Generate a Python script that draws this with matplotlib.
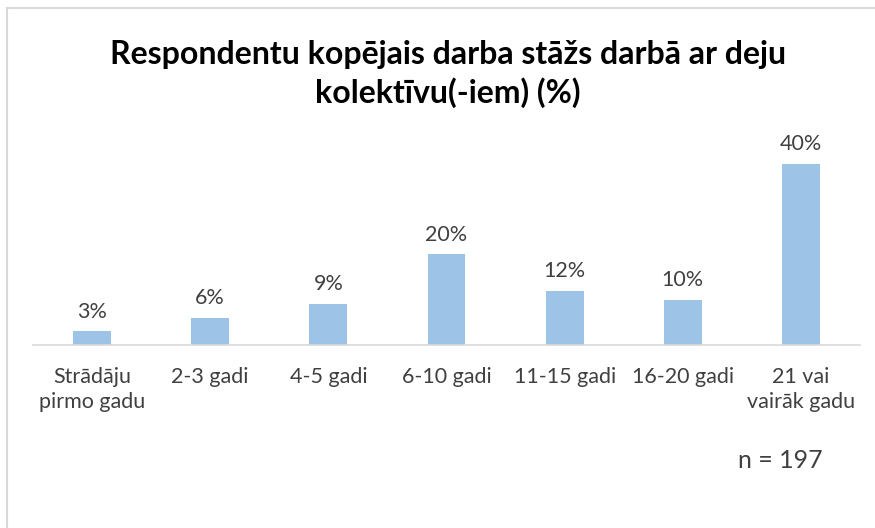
import matplotlib.pyplot as plt
from matplotlib.patches import Rectangle

categories = ["Strādāju\npirmo gadu", "2-3 gadi", "4-5 gadi", "6-10 gadi",
              "11-15 gadi", "16-20 gadi", "21 vai\nvairāk gadu"]
values = [3, 6, 9, 20, 12, 10, 40]

plt.rcParams['font.family'] = ['Lato', 'DejaVu Sans']

fig = plt.figure(figsize=(8.75, 5.28), dpi=100)
W, H = 875, 528

# chart area border (cut off on right and bottom like the source)
fig.patches.append(Rectangle((7 / W, -0.05), 1.1, 1 - 8 / H + 0.05,
                             transform=fig.transFigure, fill=False,
                             edgecolor='#d9d9d9', linewidth=1.5))

ax = fig.add_axes([33 / W, (H - 345) / H, (860 - 33) / W, (345 - 141) / H])
x = range(len(categories))
bars = ax.bar(x, values, width=0.32, color='#9dc3e6')
ax.set_xlim(-0.5, len(categories) - 0.5)
ax.set_ylim(0, 45)

for b, v in zip(bars, values):
    ax.annotate(f"{v}%", (b.get_x() + b.get_width() / 2, v),
                xytext=(0, 7), textcoords='offset points',
                ha='center', va='bottom', fontsize=15.5, color='#404040')

for s in ['top', 'right', 'left']:
    ax.spines[s].set_visible(False)
ax.spines['bottom'].set_color('#d9d9d9')
ax.spines['bottom'].set_linewidth(1.2)
ax.set_yticks([])
ax.set_xticks(list(x))
ax.set_xticklabels(categories, fontsize=15.5, color='#404040', linespacing=1.3)
ax.tick_params(axis='x', length=0, pad=16)

fig.text(448 / W, 1 - 74 / H, "Respondentu kopējais darba stāžs darbā ar deju\nkolektīvu(-iem) (%)",
         ha='center', va='center', fontsize=23, fontweight='bold',
         color='black', linespacing=1.35)

fig.text(780 / W, 1 - 460 / H, "n = 197", ha='center', va='center',
         fontsize=18, color='#404040')

fig.savefig('out.png', dpi=100)
